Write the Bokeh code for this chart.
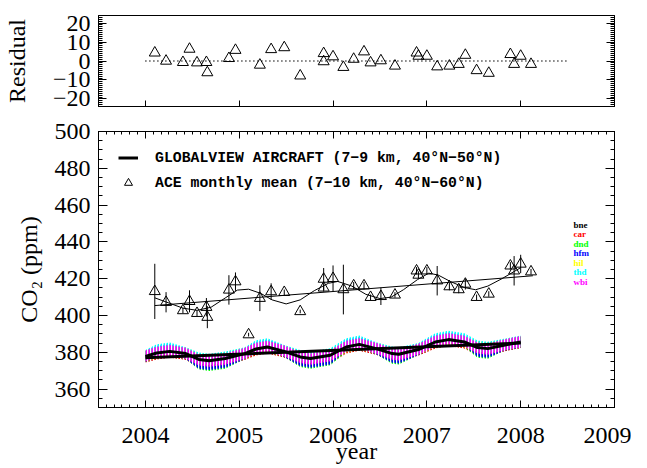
import numpy as np
from bokeh.plotting import figure
from bokeh.layouts import column
from bokeh.models import (ColumnDataSource, LinearAxis, SingleIntervalTicker, Range1d,
                          Label, Legend, LegendItem, CustomJSTickFormatter)
from bokeh.embed import file_html
from bokeh.resources import INLINE

# ---------------- data ----------------
# ACE monthly means (7-10 km, 40N-60N)
ace_year = [2004.10, 2004.22, 2004.40, 2004.47, 2004.55, 2004.65, 2004.66, 2004.89, 2004.96,
            2005.10, 2005.22, 2005.34, 2005.48, 2005.65, 2005.90, 2005.90, 2006.00, 2006.11,
            2006.22, 2006.33, 2006.40, 2006.51, 2006.66, 2006.89, 2006.91, 2007.00, 2007.11,
            2007.24, 2007.34, 2007.41, 2007.53, 2007.66, 2007.89, 2007.93, 2008.00, 2008.11]
ace_co2 = [413.1, 407.2, 402.7, 407.7, 401.2, 404.5, 399.1, 413.9, 418.4,
           389.6, 409.4, 413.0, 412.6, 402.2, 419.8, 415.0, 420.2, 414.1,
           416.2, 416.2, 409.9, 410.4, 411.2, 424.3, 422.0, 424.3, 418.9,
           415.7, 414.1, 417.1, 409.9, 411.7, 427.0, 424.3, 428.0, 423.8]
ace_err = [15.0, 5.5, 1.5, 6.0, 1.5, 5.0, 6.0, 8.0, 5.0,
           1.0, 7.0, 4.5, 1.5, 1.0, 6.0, 2.0, 7.0, 13.5,
           2.0, 2.0, 1.5, 4.7, 1.5, 2.0, 2.0, 2.0, 8.0,
           2.0, 2.0, 3.0, 1.5, 1.5, 2.0, 8.0, 5.0, 1.5]

# residuals (ACE - fit)
res_year = [2004.10, 2004.22, 2004.40, 2004.47, 2004.55, 2004.65, 2004.66, 2004.89, 2004.96,
            2005.22, 2005.34, 2005.48, 2005.65, 2005.90, 2005.90, 2006.00, 2006.11,
            2006.22, 2006.33, 2006.40, 2006.51, 2006.66, 2006.89, 2006.91, 2007.00, 2007.11,
            2007.24, 2007.34, 2007.41, 2007.53, 2007.66, 2007.89, 2007.93, 2008.00, 2008.11]
res_val = [4.3, 0.0, -0.7, 6.3, -0.9, -0.7, -6.1, 1.4, 5.7,
           -2.1, 6.1, 7.1, -7.8, 4.0, -0.3, 2.3, -3.3,
           1.0, 4.9, -0.9, 0.2, -2.6, 4.3, 2.6, 2.6, -3.0,
           -2.6, -1.7, 3.1, -5.0, -6.4, 3.5, -1.7, 2.6, -1.7]
zero_year = [2004.0, 2008.5]
zero_val = [0.0, 0.0]

# ACE fitted curve and linear trend
ace_fit_year = [2004.10, 2004.25, 2004.40, 2004.55, 2004.70, 2004.85, 2004.98, 2005.10, 2005.23,
                2005.35, 2005.50, 2005.65, 2005.80, 2005.95, 2006.05, 2006.20, 2006.35, 2006.50,
                2006.62, 2006.75, 2006.90, 2007.02, 2007.12, 2007.25, 2007.40, 2007.52, 2007.65,
                2007.80, 2007.95, 2008.00]
ace_fit_co2 = [409.6, 406.8, 404.0, 402.8, 404.5, 409.5, 413.8, 414.3, 412.0,
               408.5, 406.3, 408.5, 413.5, 417.5, 418.5, 416.0, 411.5, 409.2,
               410.0, 414.0, 419.5, 423.0, 422.0, 418.5, 415.2, 414.0, 416.0,
               420.0, 424.5, 426.0]
ace_trend_year = [2004.10, 2008.13]
ace_trend_co2 = [405.4, 421.6]

# GLOBALVIEW aircraft (7-9 km, 40N-50N)
gv_year = [2004.00, 2004.12, 2004.26, 2004.43, 2004.57, 2004.68, 2004.85, 2005.06, 2005.18,
           2005.30, 2005.48, 2005.65, 2005.76, 2005.97, 2006.14, 2006.28, 2006.46, 2006.63,
           2006.70, 2006.91, 2007.09, 2007.23, 2007.40, 2007.54, 2007.65, 2007.82, 2008.00]
gv_co2 = [377.8, 379.6, 380.5, 379.3, 376.1, 375.4, 376.6, 379.3, 381.8,
          382.9, 380.5, 377.5, 376.6, 378.4, 382.9, 384.3, 382.0, 379.3,
          378.9, 381.5, 385.6, 386.9, 385.6, 382.6, 382.0, 383.8, 385.6]
gv_trend_year = [2004.0, 2008.0]
gv_trend_co2 = [377.0, 385.0]

stations = ["bne", "car", "dnd", "hfm", "hil", "thd", "wbi"]
station_colors = ["#000000", "#FF0000", "#00FF00", "#0000FF", "#FFFF00", "#00FFFF", "#FF00FF"]
bne = [377.6, 379.3, 380.2, 379.1, 376.4, 375.7, 376.9, 379.1, 381.5, 382.6, 380.3, 377.8, 376.9, 378.7,
       382.6, 384.0, 381.8, 379.6, 379.2, 381.3, 385.3, 386.6, 385.3, 382.9, 382.3, 383.6, 385.4]
car = [377.5, 379.1, 380.0, 379.0, 374.6, 373.9, 375.1, 379.0, 381.3, 382.4, 380.2, 376.0, 375.1, 376.9,
       382.4, 383.8, 381.7, 377.8, 377.4, 381.2, 385.1, 386.4, 385.1, 381.1, 380.5, 383.5, 385.3]
dnd = [377.8, 379.9, 380.8, 379.3, 373.6, 372.9, 374.1, 379.3, 382.1, 383.2, 380.5, 375.0, 374.1, 375.9,
       383.2, 384.6, 382.0, 376.8, 376.4, 381.5, 385.9, 387.2, 385.9, 380.1, 379.5, 383.8, 385.6]
hfm = [377.8, 380.6, 381.5, 379.3, 374.1, 373.4, 374.6, 379.3, 382.8, 383.9, 380.5, 375.5, 374.6, 376.4,
       383.9, 385.3, 382.0, 377.3, 376.9, 381.5, 386.6, 387.9, 386.6, 380.6, 380.0, 383.8, 385.6]
hil = [378.1, 379.6, 380.5, 379.6, 376.6, 375.9, 377.1, 379.6, 381.8, 382.9, 380.8, 378.0, 377.1, 378.9,
       382.9, 384.3, 382.3, 379.8, 379.4, 381.8, 385.6, 386.9, 385.6, 383.1, 382.5, 384.1, 385.9]
thd = [378.3, 381.4, 382.3, 379.8, 376.9, 376.2, 377.4, 379.8, 383.6, 384.7, 381.0, 378.3, 377.4, 379.2,
       384.7, 386.1, 382.5, 380.1, 379.7, 382.0, 387.4, 388.7, 387.4, 383.4, 382.8, 384.3, 386.1]
wbi = [378.0, 380.0, 380.9, 379.5, 375.8, 375.1, 376.3, 379.5, 382.2, 383.3, 380.7, 377.2, 376.3, 378.1,
       383.3, 384.7, 382.2, 379.0, 378.6, 381.7, 386.0, 387.3, 386.0, 382.3, 381.7, 384.0, 385.8]
station_values = [bne, car, dnd, hfm, hil, thd, wbi]
station_spread = 3.0  # ppm half-width of each station band

legend_gv = "GLOBALVIEW AIRCRAFT (7\u22129 km, 40\u00b0N\u221250\u00b0N)"
legend_ace = "ACE monthly mean (7\u221210 km, 40\u00b0N\u221260\u00b0N)"

# ---------------- styles ----------------
SERIF = "Liberation Serif"
TICK_FS = "24px"
LAB_FS = "24px"
W = 631
LEFT = 90
RIGHT = 17
BLANK = CustomJSTickFormatter(code="return ''")


def style_axis(ax, tick_major, tick_minor, show_labels=True, standoff=8):
    ax.axis_line_color = "black"
    ax.major_tick_line_color = "black"
    ax.minor_tick_line_color = "black"
    ax.major_tick_in = tick_major
    ax.major_tick_out = 0
    ax.minor_tick_in = tick_minor
    ax.minor_tick_out = 0
    ax.major_label_text_font = SERIF
    ax.major_label_text_color = "black"
    if show_labels:
        ax.major_label_text_font_size = TICK_FS
        ax.major_label_standoff = standoff
    else:
        ax.formatter = BLANK
        ax.major_label_text_font_size = "2px"
        ax.major_label_standoff = 0
    ax.axis_label_text_font = SERIF
    ax.axis_label_text_font_size = LAB_FS
    ax.axis_label_text_font_style = "normal"
    ax.axis_label_text_color = "black"


xr = Range1d(2003.5, 2009.0)

# ---------------- top panel: residuals ----------------
top = figure(width=W, height=115, x_range=xr, y_range=Range1d(-24, 24),
             output_backend="svg", toolbar_location=None,
             min_border_left=LEFT, min_border_right=RIGHT, min_border_top=15, min_border_bottom=9)
top.xgrid.visible = False
top.ygrid.visible = False
top.outline_line_color = "black"
top.background_fill_color = "white"
top.border_fill_color = "white"

tx = SingleIntervalTicker(interval=1, num_minor_ticks=0)
top.xaxis.ticker = tx
style_axis(top.xaxis[0], 6, 0, show_labels=False)
ty = SingleIntervalTicker(interval=10, num_minor_ticks=10)
top.yaxis.ticker = ty
style_axis(top.yaxis[0], 8, 4, standoff=8)
top.yaxis.axis_label = "Residual"
top.yaxis.axis_label_standoff = 20
ry = LinearAxis(ticker=ty)
style_axis(ry, 8, 4, show_labels=False)
top.add_layout(ry, "right")

top.line(zero_year, zero_val, line_color="black", line_width=1.3, line_dash="1 3")
top.scatter(res_year, res_val, marker="triangle", size=11, fill_color=None,
            line_color="black", line_width=1)

# ---------------- bottom panel: CO2 ----------------
bot = figure(width=W, height=351, x_range=xr, y_range=Range1d(350, 500),
             output_backend="svg", toolbar_location=None,
             min_border_left=LEFT, min_border_right=RIGHT, min_border_top=16, min_border_bottom=56)
bot.xgrid.visible = False
bot.ygrid.visible = False
bot.outline_line_color = "black"
bot.background_fill_color = "white"
bot.border_fill_color = "white"

bx = SingleIntervalTicker(interval=1, num_minor_ticks=12)
bot.xaxis.ticker = bx
style_axis(bot.xaxis[0], 7, 3, standoff=20)
bot.xaxis.axis_label = "year"
bot.xaxis.axis_label_standoff = -8
by = SingleIntervalTicker(interval=20, num_minor_ticks=4)
bot.yaxis.ticker = by
style_axis(bot.yaxis[0], 9, 4, standoff=8)
bot.yaxis.axis_label = "CO\u2082 (ppm)"
bot.yaxis.axis_label_standoff = 10
ax_top = LinearAxis(ticker=bx)
style_axis(ax_top, 7, 3, show_labels=False)
bot.add_layout(ax_top, "above")
ax_right = LinearAxis(ticker=by)
style_axis(ax_right, 9, 4, show_labels=False)
bot.add_layout(ax_right, "right")

# station bands (vertical hatching)
for name, col, vals in zip(stations, station_colors, station_values):
    v = np.array(vals)
    bot.varea(x=gv_year, y1=v - station_spread, y2=v + station_spread,
              fill_alpha=0, hatch_pattern="|", hatch_color=col, hatch_scale=3,
              hatch_weight=2, hatch_alpha=1)

gv_line = bot.line(gv_year, gv_co2, line_color="black", line_width=3)
bot.line(gv_trend_year, gv_trend_co2, line_color="black", line_width=3)

# ACE
ace = ColumnDataSource(dict(x=ace_year, y=ace_co2,
                            lo=np.array(ace_co2) - np.array(ace_err),
                            hi=np.array(ace_co2) + np.array(ace_err)))
bot.segment(x0="x", y0="lo", x1="x", y1="hi", source=ace, line_color="black", line_width=1)
ace_pts = bot.scatter("x", "y", source=ace, marker="triangle", size=11, fill_color=None,
                      line_color="black", line_width=1)
bot.line(ace_fit_year, ace_fit_co2, line_color="black", line_width=1)
bot.line(ace_trend_year, ace_trend_co2, line_color="black", line_width=1)

legend = Legend(items=[LegendItem(label=legend_gv, renderers=[gv_line]),
                       LegendItem(label=legend_ace, renderers=[ace_pts])],
                location=(20, 212), border_line_color=None, background_fill_alpha=0,
                label_text_font="Liberation Mono", label_text_font_size="14.8px",
                label_text_font_style="bold", label_text_color="black",
                glyph_width=20, glyph_height=25, label_height=25, spacing=0,
                padding=0, margin=0, label_standoff=17)
bot.add_layout(legend)

# station labels
lab_x = 475
lab_y0 = 183
lab_dy = 9.5
for i, (name, col) in enumerate(zip(stations, station_colors)):
    bot.add_layout(Label(x=lab_x, y=lab_y0 - i * lab_dy, x_units="screen", y_units="screen",
                         text=name, text_color=col, text_font=SERIF, text_font_size="9px",
                         text_font_style="bold", text_baseline="middle", text_align="left"))

layout = column(top, bot, spacing=0)
open("out.html", "w").write(file_html(layout, INLINE))
